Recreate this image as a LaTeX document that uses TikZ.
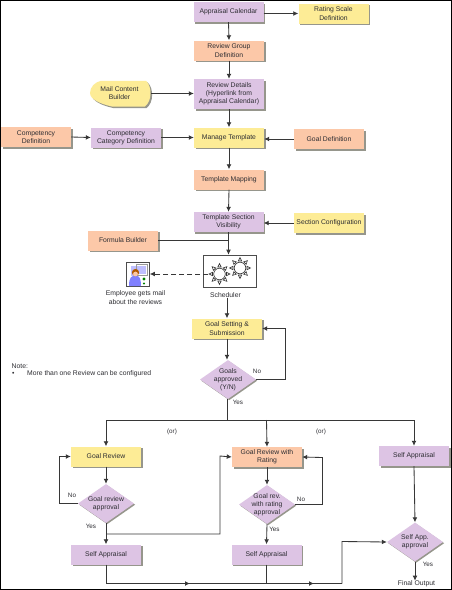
\documentclass[tikz,border=0pt]{standalone}
\usepackage{fontspec}
\setmainfont{Liberation Sans}
\usetikzlibrary{arrows.meta,shapes.geometric,shadows}
\definecolor{lilac}{RGB}{221,196,228}
\definecolor{peach}{RGB}{252,200,168}
\definecolor{butter}{RGB}{253,236,150}
\definecolor{ink}{RGB}{45,45,50}
\definecolor{shade}{RGB}{150,150,140}
\definecolor{linec}{RGB}{55,55,55}
\tikzset{
 x=1pt,y=-1pt,
 every node/.style={font=\fontsize{6.8}{8.2}\selectfont,text=ink,align=center,inner sep=0pt},
 boxbase/.style={rectangle,minimum width=#1,drop shadow={shadow xshift=1.6pt,shadow yshift=-1.6pt,fill=shade,opacity=1}},
 boxbase/.default=70pt,
 lil/.style={boxbase=#1,fill=lilac},lil/.default=70pt,
 pch/.style={boxbase=#1,fill=peach},pch/.default=70pt,
 but/.style={boxbase=#1,fill=butter},but/.default=70pt,
 dia/.style={diamond,fill=lilac,inner sep=-8pt,minimum width=56pt,minimum height=39pt,drop shadow={shadow xshift=1.2pt,shadow yshift=-1.2pt,fill=shade,opacity=1}},
 conn/.style={draw=linec,line width=0.85pt},
 arr/.style={conn,-{Latex[length=5pt,width=4.8pt]}},
 lab/.style={font=\fontsize{6.3}{8}\selectfont},
 cog/.style={draw=black!80,fill=white,line width=0.6pt},
}
\newcommand{\gearshape}[3]{%
 \foreach \a in {0,45,...,315}{
  \draw[black!80,fill=white,line width=0.6pt,shift={(#1,#2)},rotate=\a,line join=miter] (#3+1.2,-1.7) -- (#3+4.6,0) -- (#3+1.2,1.7) -- cycle;
 }
 \draw[cog] (#1,#2) circle[radius=#3];
}
\begin{document}
\begin{tikzpicture}
\useasboundingbox (0,0) rectangle (452,590);
\fill[white] (0,0) rectangle (452,590);
% main column
\node[lil,minimum height=20pt] (cal) at (228.5,12) {Appraisal Calendar};
\node[but,minimum width=70pt,minimum height=20pt] (rate) at (333.5,13.5) {Rating Scale\\Definition};
\node[pch,minimum height=20pt] (grp) at (229,50.5) {Review Group\\Definition};
\node[lil,minimum height=30pt] (det) at (229,94) {Review Details\\(Hyperlink from\\Appraisal Calendar)};
\node[but,minimum height=20pt] (mt) at (229,137.5) {Manage Template};
\node[pch,minimum height=20pt] (map) at (229,179.5) {Template Mapping};
\node[lil,minimum height=20pt] (vis) at (228.5,222) {Template Section\\Visibility};
\node[but,minimum height=20pt] (sec) at (329,223) {Section Configuration};
\node[pch,minimum height=20pt] (gd) at (329,139) {Goal Definition};
\node[lil,minimum height=20pt] (ccd) at (126,137.5) {Competency\\Category Definition};
\node[pch,minimum height=20pt] (cd) at (36,137) {Competency\\Definition};
\node[pch,minimum height=20pt] (fb) at (123,240.5) {Formula Builder};
% mail content builder
\path[fill=shade,shift={(1.6,1.6)}] (101,80.8) -- (146,80.8) .. controls (149.5,84) and (150.5,89) .. (150.5,93.5) .. controls (150.5,99) and (148.5,103.5) .. (145,106.5) -- (112,106.5) .. controls (100,104) and (90,99) .. (90,93) .. controls (90,87) and (95,82) .. (101,80.8) -- cycle;
\path[fill=butter] (101,80.8) -- (146,80.8) .. controls (149.5,84) and (150.5,89) .. (150.5,93.5) .. controls (150.5,99) and (148.5,103.5) .. (145,106.5) -- (112,106.5) .. controls (100,104) and (90,99) .. (90,93) .. controls (90,87) and (95,82) .. (101,80.8) -- cycle;
\node (mail) at (119.5,93) {Mail Content\\Builder};
\coordinate (mailE) at (150.5,93.5);
% scheduler
\node[draw=black!70,fill=white,line width=0.6pt,minimum width=53.5pt,minimum height=32pt] (sch) at (230,271) {};
\gearshape{240}{268}{5.8}
\gearshape{219.5}{274}{5.8}
\node (schl) at (225.5,295) {Scheduler};
% employee icon
\node[draw=black!70,fill=white,line width=0.7pt,minimum width=23pt,minimum height=24pt] (emp) at (138,274.5) {};
\fill[blue!25!white] (131,266) rectangle (147,276);
\fill[white,draw=black!40,line width=0.3pt] (136,264) rectangle (147,275);
\fill[blue!25!white] (137,266) rectangle (146,274);
\fill[blue!50!white] (129,286) .. controls (129,277) and (132,276) .. (134,276) -- (137,276) .. controls (139,276) and (141,278) .. (141,286) -- cycle;
\fill[orange!70!black] (135.5,272.5) circle[radius=3.6];
\fill[peach] (135.5,274) circle[radius=2.4];
\fill[green!50!black] (144,279) circle[radius=1.6];
\fill[green!50!black] (144,283.5) circle[radius=1.1];
\node (empl) at (135.5,297.5) {\fontsize{6.8}{9.2}\selectfont Employee gets mail\\about the reviews};
% goal setting
\node[but,minimum height=20pt] (gs) at (227,328.5) {Goal Setting \&\\Submission};
\node[dia] (ga) at (228,379.5) {Goals\\approved\\(Y/N)};
% reviews
\node[but,minimum height=20pt] (gr) at (106,456.5) {Goal Review};
\node[pch,minimum height=20pt] (grr) at (267,457) {Goal Review with\\Rating};
\node[lil,minimum height=20pt] (sa3) at (414,456) {Self Appraisal};
\node[dia] (gra) at (106,503.5) {Goal review\\approval};
\node[dia] (grra) at (267,504.5) {Goal rev.\\with rating\\approval};
\node[dia] (saa) at (415,542) {Self App.\\approval};
\node[lil,minimum height=20pt] (sa1) at (106,554.5) {Self Appraisal};
\node[lil,minimum height=20pt] (sa2) at (266.5,554.5) {Self Appraisal};
\node (fo) at (416.5,584) {Final Output};
% connectors
\draw[arr] (cal.south) -- (grp.north);
\draw[arr] (cal.east |- 13.5,13.5) -- (rate.west);
\draw[arr] (grp.south) -- (det.north);
\draw[arr] (mailE) -- (det.west |- mailE);
\draw[arr] (det.south) -- (mt.north);
\draw[arr] (cd.east) -- (ccd.west);
\draw[arr] (ccd.east) -- (mt.west);
\draw[arr] (gd.west) -- (mt.east |- gd.west);
\draw[arr] (mt.south) -- (map.north);
\draw[arr] (map.south) -- (vis.north);
\draw[arr] (sec.west) -- (vis.east |- sec.west);
\draw[arr] (vis.south) -- (vis.south |- sch.north);
\draw[conn] (fb.east) -- (fb.east -| vis.south);
\draw[arr,dash pattern=on 5pt off 3pt] (208,274) -- (emp.east |- 208,274);
\draw[arr] (schl.south -| gs.north) -- (gs.north);
\draw[arr] (gs.south) -- (ga.north -| gs.south);
\draw[arr] (ga.east) -- (285,379.5) -- (285,328.5) -- (gs.east);
\coordinate (busl) at (106,420);
\coordinate (busm) at (227.5,420);
\draw[conn] (ga.south -| busm) -- (busm);
\draw[arr] (414,420) -- (sa3.north);
\draw[conn] (414,420) -- (busl);
\draw[arr] (busl) -- (gr.north);
\draw[arr] (266.5,420) -- (grr.north);
\draw[arr] (gr.south) -- (gra.north);
\draw[arr] (gra.west) -- (59.5,503.5) -- (59.5,456.5) -- (gr.west);
\draw[arr] (gra.south) -- (sa1.north);
\draw[arr] (106,534) -- (220,534) -- (220,456) -- (grr.west);
\draw[arr] (grr.south) -- (grra.north);
\draw[arr] (grra.east) -- (322.5,504.5) -- (322.5,457.5) -- (grr.east);
\draw[arr] (grra.south) -- (sa2.north);
\draw[arr] (sa3.south) -- (saa.north);
\draw[conn] (sa1.south) -- (106,583.5) -- (342,583.5);
\draw[conn] (sa2.south) -- (266.5,583.5);
\draw[arr] (106,583.5) -- (190,583.5);
\draw[arr] (200,583.5) -- (314,583.5);
\draw[arr] (342,583.5) -- (342,541.5) -- (saa.west);
\draw[arr] (saa.south) -- (fo.north -| saa.south);
% labels
\node[lab] at (257,371) {No};
\node[lab] at (238,402) {Yes};
\node[lab] at (172,432) {(or)};
\node[lab] at (321,432) {(or)};
\node[lab] at (72,495.5) {No};
\node[lab] at (91,526.5) {Yes};
\node[lab] at (301,499.5) {No};
\node[lab] at (274.5,529) {Yes};
\node[lab] at (428,564.5) {Yes};
\node[anchor=west] (note) at (11.5,366) {Note:};
\node[anchor=west] (bul) at (12,374) {•};
\node[anchor=west] (notet) at (27,374) {More than one Review can be configured};
% frame
\draw[black,line width=1.4pt] (0.7,0.7) rectangle (451.3,589.3);
\end{tikzpicture}
\end{document}
